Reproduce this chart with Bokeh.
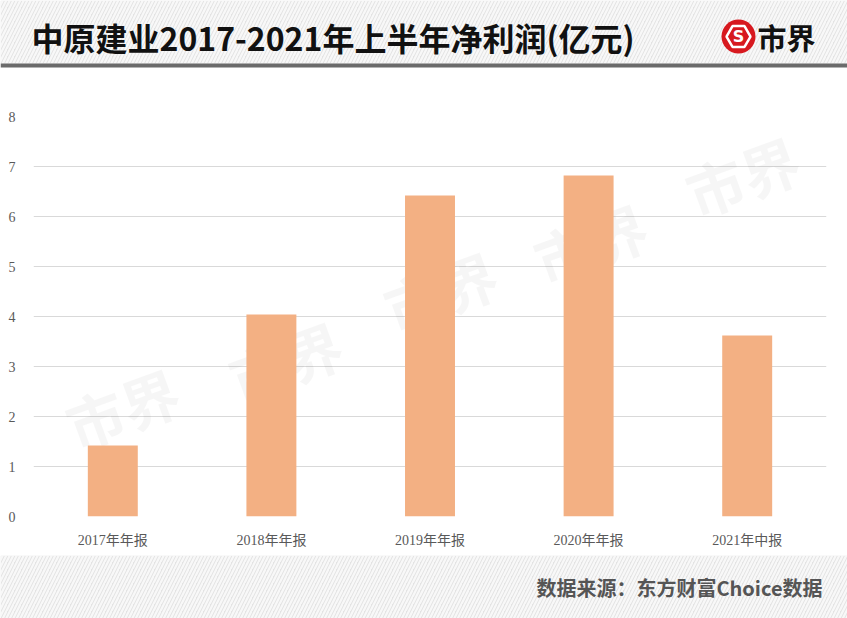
from bokeh.plotting import figure
from bokeh.models import Range1d, FactorRange, FixedTicker, Label, ColumnDataSource
from bokeh.layouts import column
from bokeh.embed import file_html
from bokeh.resources import INLINE
from bokeh.core.properties import value

# ---- data ----
title_text = "中原建业2017-2021年上半年净利润(亿元)"
categories = ["2017年年报", "2018年年报", "2019年年报", "2020年年报", "2021年中报"]
net_profit = [1.42, 4.04, 6.42, 6.82, 3.62]
y_ticks = [0, 1, 2, 3, 4, 5, 6, 7, 8]
source_text = "数据来源：东方财富Choice数据"
brand_text = "市界"

W = 847
CJK = "Noto Sans CJK SC"
SERIF = "'Liberation Serif', 'Noto Sans CJK SC', serif"


def deco_fig(h):
    f = figure(width=W, height=h, x_range=Range1d(0, W), y_range=Range1d(0, h),
               output_backend="svg", toolbar_location=None, min_border=0,
               x_axis_location=None, y_axis_location=None, frame_align=False)
    f.grid.visible = False
    f.outline_line_color = None
    f.background_fill_color = "white"
    f.border_fill_color = "white"
    return f


# ---- header ----
HH = 68
header = deco_fig(HH)
header.quad(left=0, right=W, bottom=5, top=HH, fill_color="#e3e3e3", line_color=None,
            hatch_pattern="/", hatch_color="white", hatch_alpha=0.75,
            hatch_scale=7, hatch_weight=2.2)
header.quad(left=0, right=W, bottom=1, top=5, fill_color="#6b6b6b", line_color=None)
header.text(x=[31], y=[32], text=[title_text], text_font=value(CJK),
            text_font_style="bold", text_font_size="32px", text_color="#111111",
            text_baseline="middle", text_align="left")
header.circle(x=[738], y=[32], radius=17, fill_color="#d7191f", line_color=None)
header.scatter(x=[738], y=[32], marker="hex", size=24, fill_color=None,
               line_color="white", line_width=2.5)
header.text(x=[738], y=[32], text=["S"], text_font=value("DejaVu Sans"),
            text_font_style="bold", text_font_size="16px", text_color="white",
            text_baseline="middle", text_align="center")
header.text(x=[757], y=[32], text=[brand_text], text_font=value(CJK),
            text_font_style="bold", text_font_size="29px", text_color="#111111",
            text_baseline="middle", text_align="left")

# ---- chart ----
src = ColumnDataSource(data=dict(cat=categories, val=net_profit))
p = figure(width=W, height=487, x_range=FactorRange(*categories), y_range=Range1d(0, 8),
           output_backend="svg", toolbar_location=None, frame_align=False,
           min_border_top=48, min_border_bottom=39, min_border_left=33, min_border_right=21)
p.outline_line_color = None
p.background_fill_color = "white"
p.border_fill_color = "white"

for (wx, wy) in [(89, 109), (252, 156), (407, 226), (557, 274), (709, 341)]:
    p.add_layout(Label(x=wx, y=wy, x_units="screen", y_units="screen", text=brand_text,
                       angle=0.35, text_font=CJK, text_font_style="bold",
                       text_font_size="58px", text_color="#000000", text_alpha=0.035,
                       text_align="center", text_baseline="middle", level="underlay"))

p.vbar(x="cat", top="val", source=src, width=0.315, fill_color="#F3B083", line_color=None)

p.ygrid.grid_line_color = "#d9d9d9"
p.ygrid.grid_line_width = 1
p.xgrid.grid_line_color = None
p.yaxis.ticker = FixedTicker(ticks=y_ticks)
for ax in (p.xaxis, p.yaxis):
    ax.axis_line_color = None
    ax.major_tick_line_color = None
    ax.minor_tick_line_color = None
    ax.major_label_text_font = SERIF
    ax.major_label_text_font_size = "14px"
    ax.major_label_text_color = "#595959"
p.yaxis.major_label_standoff = 12
p.xaxis.major_label_standoff = 10

# ---- footer ----
FH = 63
footer = deco_fig(FH)
footer.quad(left=0, right=W, bottom=0, top=FH, fill_color="#e3e3e3", line_color=None,
            hatch_pattern="/", hatch_color="white", hatch_alpha=0.75,
            hatch_scale=7, hatch_weight=2.2)
footer.text(x=[822], y=[31], text=[source_text], text_font=value(CJK),
            text_font_style="bold", text_font_size="20px", text_color="#555555",
            text_baseline="middle", text_align="right")

layout = column(header, p, footer, spacing=0)
open("out.html", "w").write(file_html(layout, INLINE))
